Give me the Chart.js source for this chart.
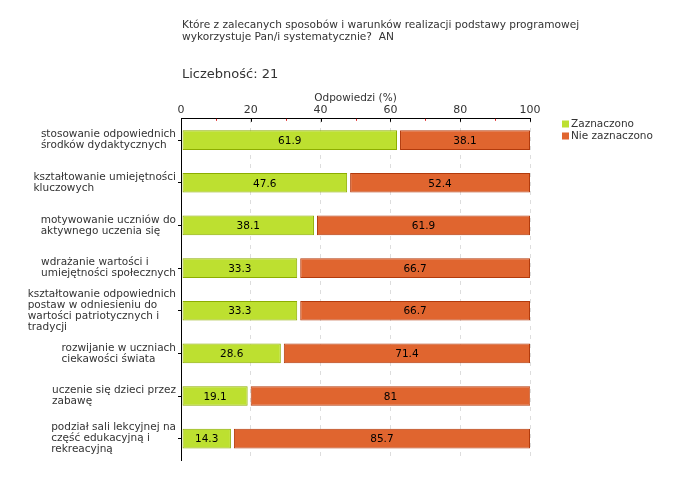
<!DOCTYPE html>
<html>
<head>
<meta charset="utf-8">
<script src="https://cdn.jsdelivr.net/npm/chart.js@4"></script>
<style>
  html, body { margin: 0; padding: 0; background: #fff; }
  #wrap { width: 680px; height: 480px; }
</style>
</head>
<body>
<div id="wrap"><canvas id="chart" width="680" height="480"></canvas></div>
<script>
const titleLines = [
  "Które z zalecanych sposobów i warunków realizacji podstawy programowej",
  "wykorzystuje Pan/i systematycznie?  AN"
];
const countText = "Liczebność: 21";
const axisTitle = "Odpowiedzi (%)";

const categories = [
  ["stosowanie odpowiednich", "środków dydaktycznych"],
  ["kształtowanie umiejętności", "kluczowych"],
  ["motywowanie uczniów do", "aktywnego uczenia się"],
  ["wdrażanie wartości i", "umiejętności społecznych"],
  ["kształtowanie odpowiednich", "postaw w odniesieniu do", "wartości patriotycznych i", "tradycji"],
  ["rozwijanie w uczniach", "ciekawości świata"],
  ["uczenie się dzieci przez", "zabawę"],
  ["podział sali lekcyjnej na", "część edukacyjną i", "rekreacyjną"]
];
const seriesNames = ["Zaznaczono", "Nie zaznaczono"];
const marked = [61.9, 47.6, 38.1, 33.3, 33.3, 28.6, 19.1, 14.3];
const notMarked = [38.1, 52.4, 61.9, 66.7, 66.7, 71.4, 81, 85.7];
const xTicks = [0, 20, 40, 60, 80, 100];
const xMinorTicks = [10, 30, 50, 70, 90];

const FONT = "'DejaVu Sans', Verdana, sans-serif";
const fills = ["#bde030", "#e0652f"];
const borders = ["#8cad00", "#b23a0c"];
// white gap in front of each segment, like the original renderer
const gaps = [1, 3];

// titles, y labels, bar values, extra ticks and legend
const decor = {
  id: "decor",
  beforeDatasetDraw(chart, args) {
    args.meta.data.forEach(el => { el.base += gaps[args.index]; });
  },
  afterDatasetDraw(chart, args) {
    args.meta.data.forEach(el => { el.base -= gaps[args.index]; });
  },
  afterDraw(chart) {
    const ctx = chart.ctx;
    const area = chart.chartArea;
    const xs = chart.scales.x;
    const ys = chart.scales.y;
    ctx.save();
    ctx.fillStyle = "#333";
    ctx.textBaseline = "middle";
    ctx.textAlign = "left";
    ctx.font = "10.6px " + FONT;
    titleLines.forEach((t, i) => ctx.fillText(t, area.left + 1, 25 + i * 12));
    ctx.font = "13px " + FONT;
    ctx.fillText(countText, area.left + 1, 75);

    // category labels: block right aligned, lines left aligned
    ctx.font = "10.5px " + FONT;
    categories.forEach((lines, i) => {
      const y = ys.getPixelForValue(i);
      const w = Math.max(...lines.map(l => ctx.measureText(l).width));
      const x0 = area.left - 5 - w;
      const lh = 11;
      const y0 = y - (lines.length - 1) * lh / 2;
      lines.forEach((l, j) => ctx.fillText(l, x0, y0 + j * lh));
    });

    // ticks hanging below the top axis
    ctx.lineWidth = 1;
    xTicks.forEach(v => {
      const x = Math.round(xs.getPixelForValue(v)) + 0.5;
      ctx.strokeStyle = "#000";
      ctx.beginPath(); ctx.moveTo(x, area.top); ctx.lineTo(x, area.top + 3); ctx.stroke();
    });
    xMinorTicks.forEach(v => {
      const x = Math.round(xs.getPixelForValue(v)) + 0.5;
      ctx.strokeStyle = "#e02020";
      ctx.beginPath(); ctx.moveTo(x, area.top); ctx.lineTo(x, area.top + 2); ctx.stroke();
    });

    // legend
    ctx.font = "10.5px " + FONT;
    seriesNames.forEach((n, i) => {
      const y = 124 + i * 12;
      ctx.fillStyle = fills[i];
      ctx.fillRect(562, y - 3.5, 7, 7);
      ctx.fillStyle = "#333";
      ctx.fillText(n, 571, y);
    });
    ctx.restore();
  },
  afterDatasetsDraw(chart) {
    const ctx = chart.ctx;
    ctx.save();
    ctx.font = "10.5px " + FONT;
    ctx.fillStyle = "#000";
    ctx.textAlign = "center";
    ctx.textBaseline = "middle";
    chart.data.datasets.forEach((ds, di) => {
      chart.getDatasetMeta(di).data.forEach((el, i) => {
        ctx.fillText(String(ds.data[i]), (el.x + el.base + gaps[di]) / 2, el.y + 1);
      });
    });
    ctx.restore();
  }
};

new Chart(document.getElementById("chart"), {
  type: "bar",
  data: {
    labels: categories,
    datasets: [
      {
        label: seriesNames[0],
        data: marked,
        backgroundColor: fills[0],
        borderColor: borders[0],
        borderWidth: 1,
        borderSkipped: false
      },
      {
        label: seriesNames[1],
        data: notMarked,
        backgroundColor: fills[1],
        borderColor: borders[1],
        borderWidth: 1,
        borderSkipped: false
      }
    ]
  },
  options: {
    indexAxis: "y",
    responsive: false,
    animation: false,
    layout: { padding: { top: 92, left: 0, right: 150, bottom: 20 } },
    datasets: { bar: { barPercentage: 0.46, categoryPercentage: 1 } },
    plugins: {
      legend: { display: false },
      tooltip: { enabled: false }
    },
    scales: {
      x: {
        position: "top",
        stacked: true,
        min: 0,
        max: 100,
        ticks: { stepSize: 20, color: "#333", font: { family: FONT, size: 11 }, padding: 2 },
        title: { display: true, text: axisTitle, color: "#333", font: { family: FONT, size: 10.5 }, padding: { top: 0, bottom: -3 } },
        grid: {
          drawTicks: false,
          color: ctx => (ctx.index === 0 ? "rgba(0,0,0,0)" : "#dddddd")
        },
        border: { display: true, color: "#000", width: 1, dash: [4, 5] }
      },
      y: {
        stacked: true,
        ticks: { display: false },
        grid: { display: true, drawOnChartArea: false, offset: false, tickLength: 3, color: "#000" },
        border: { display: true, color: "#000", width: 1 },
        afterFit: scale => { scale.width = 181; }
      }
    }
  },
  plugins: [decor]
});
</script>
</body>
</html>
